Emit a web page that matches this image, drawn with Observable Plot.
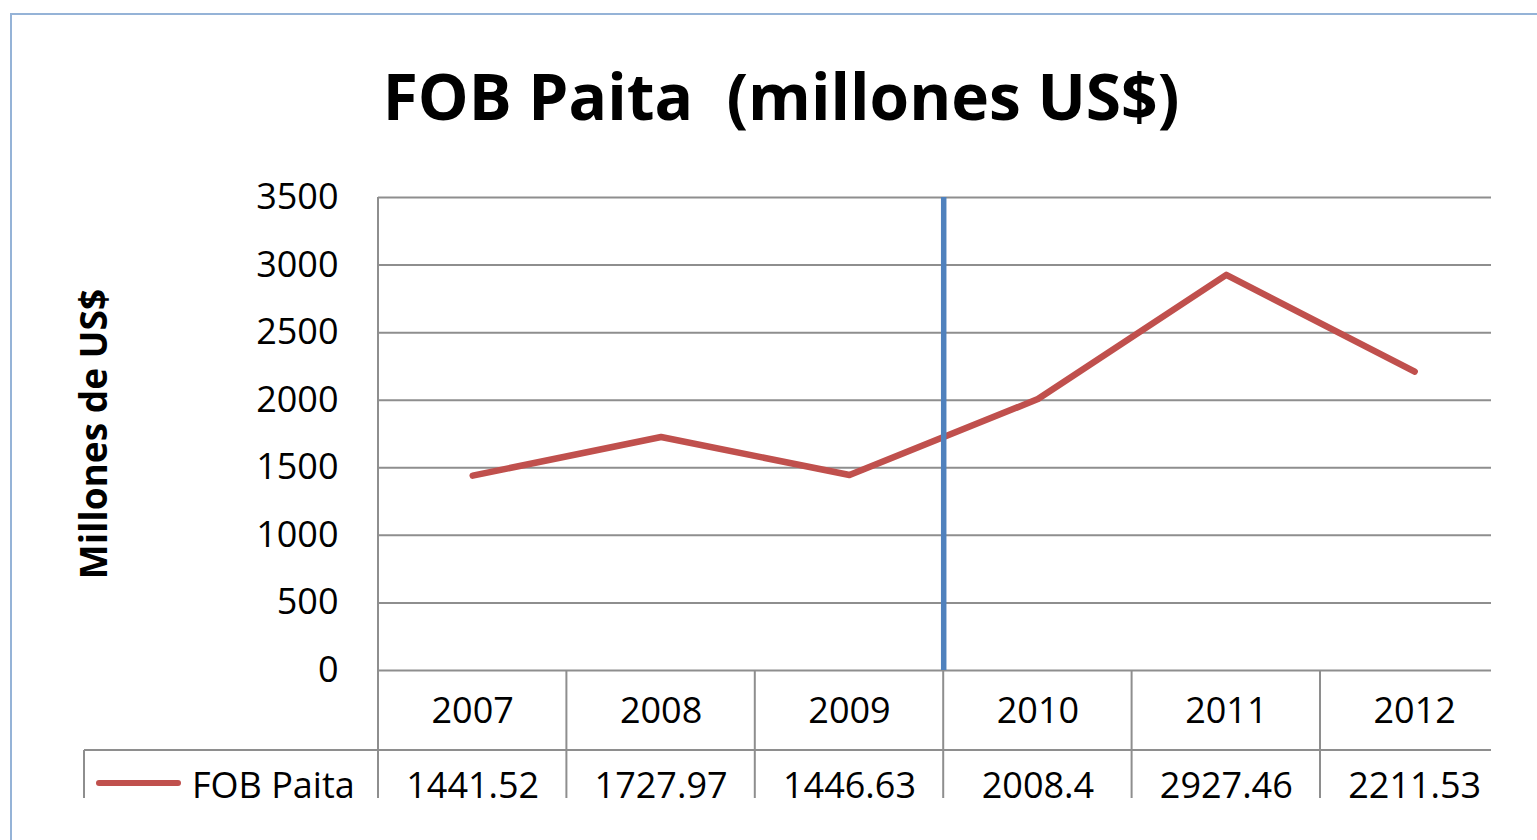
<!DOCTYPE html>
<html><head><meta charset="utf-8">
<script src="https://cdn.jsdelivr.net/npm/d3@7"></script>
<script src="https://cdn.jsdelivr.net/npm/@observablehq/plot@0.6"></script>
<style>
html,body{margin:0;padding:0;background:#fff;}
#wrap{position:relative;width:1537px;height:840px;overflow:hidden;background:#fff;}
#chart{position:absolute;left:0;top:0;}
#title{position:absolute;left:0;width:1562px;top:64px;text-align:center;font-family:'Open Sans';font-weight:700;font-size:64px;line-height:1;white-space:pre;color:#000;}
#border{position:absolute;left:10px;top:13px;width:2000px;height:2000px;border-left:2px solid #95b3d7;border-top:2px solid #95b3d7;pointer-events:none;}
</style></head><body>
<div id="wrap"><div id="chart"></div><div id="title"></div><div id="border"></div></div>
<script>
const titleText = "FOB Paita  (millones US$)";
const yLabel = "Millones de US$";
const seriesName = "FOB Paita";
const years = ["2007", "2008", "2009", "2010", "2011", "2012"];
const values = [1441.52, 1727.97, 1446.63, 2008.4, 2927.46, 2211.53];
const valueLabels = ["1441.52", "1727.97", "1446.63", "2008.4", "2927.46", "2211.53"];
const yTicks = [0, 500, 1000, 1500, 2000, 2500, 3000, 3500];
const markerYear = "2010";

document.getElementById("title").textContent = titleText;

const gridColor = "#8e8e8e";
const lineColor = "#c0504d";
const blueColor = "#4f81bd";
const centers = years.map((_, i) => i + 0.5);

const tableMark = (index, scales, vals, dims) => {
  const g = d3.create("svg:g");
  const x = scales.x;
  const bottom = dims.height - dims.marginBottom;
  const right = dims.width - dims.marginRight;
  const rowLine = bottom + 80;
  const end = dims.height;
  const legendLeft = 84;
  const ln = (x1, y1, x2, y2) => g.append("line")
    .attr("x1", x1).attr("y1", y1).attr("x2", x2).attr("y2", y2)
    .attr("stroke", gridColor).attr("stroke-width", 2);
  ln(x(0), dims.marginTop, x(0), end);
  for (let i = 1; i < years.length; i++) ln(x(i), bottom, x(i), end);
  ln(legendLeft, rowLine, right, rowLine);
  ln(legendLeft, rowLine, legendLeft, end);
  g.append("line").attr("x1", 99).attr("x2", 178).attr("y1", rowLine + 33).attr("y2", rowLine + 33)
    .attr("stroke", lineColor).attr("stroke-width", 6).attr("stroke-linecap", "round");
  g.append("text").attr("x", 192).attr("y", rowLine + 22).attr("dy", "0.71em")
    .attr("text-anchor", "start").attr("font-size", 36).attr("fill", "#000").text(seriesName);
  return g.node();
};

const chart = Plot.plot({
  width: 1537,
  height: 798,
  marginLeft: 378,
  marginRight: 46,
  marginTop: 197,
  marginBottom: 128,
  style: {fontFamily: "'Open Sans'", background: "transparent", overflow: "hidden", color: "#000"},
  x: {type: "linear", domain: [0, years.length], range: [378, 1508.4], axis: null},
  y: {domain: [0, 3500], axis: null},
  marks: [
    Plot.ruleY(yTicks, {stroke: gridColor, strokeWidth: 2}),
    tableMark,
    Plot.axisY(yTicks, {tickSize: 0, tickPadding: 40, fontSize: 36, label: null, tickFormat: d => String(d)}),
    Plot.text([yLabel], {text: d => d, frameAnchor: "left", rotate: -90, dx: -283, fontSize: 37, fontWeight: "bold", textAnchor: "middle", lineAnchor: "middle", fill: "#000"}),
    Plot.axisX(centers, {anchor: "bottom", tickSize: 0, tickPadding: 27, fontSize: 36, label: null, tickFormat: d => years[Math.floor(d)]}),
    Plot.axisX(centers, {anchor: "bottom", tickSize: 0, tickPadding: 102, fontSize: 36, label: null, tickFormat: d => valueLabels[Math.floor(d)]}),
    Plot.line(values, {x: (d, i) => i + 0.5, y: d => d, stroke: lineColor, strokeWidth: 6.5, strokeLinecap: "round", strokeLinejoin: "round"}),
    Plot.ruleX([years.indexOf(markerYear)], {x: d => d, stroke: blueColor, strokeWidth: 5.5})
  ]
});
document.getElementById("chart").appendChild(chart);
</script>
</body></html>
